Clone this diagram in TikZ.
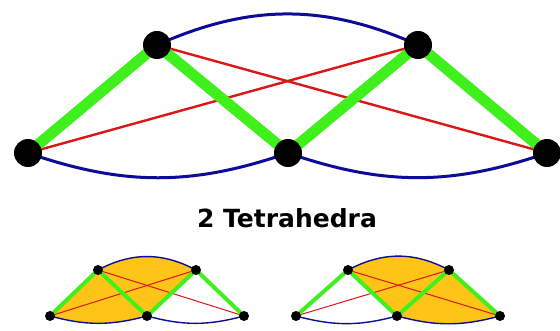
\documentclass[tikz,border=0pt]{standalone}
\usepackage{fontspec}
\setmainfont{DejaVu Sans}
\usetikzlibrary{backgrounds}
\definecolor{gr}{RGB}{64,240,28}
\definecolor{rd}{RGB}{220,22,22}
\definecolor{bl}{RGB}{12,12,150}
\definecolor{og}{RGB}{255,196,24}
\tikzset{
  bigdot/.style={circle,fill=black,inner sep=0pt,minimum size=28pt},
  smalldot/.style={circle,fill=black,inner sep=0pt,minimum size=10pt},
  gbig/.style={draw=gr,line width=11pt},
  rbig/.style={draw=rd,line width=2.4pt},
  bbig/.style={draw=bl,line width=3pt},
  gsm/.style={draw=gr,line width=4pt},
  rsm/.style={draw=rd,line width=1pt},
  bsm/.style={draw=bl,line width=1.4pt},
  tfill/.style={fill=og}
}
\begin{document}
\begin{tikzpicture}[x=1pt,y=-1pt]
\useasboundingbox (0,0) rectangle (560,331);
% big graph
\node[bigdot] (A) at (28,153) {};
\node[bigdot] (B) at (157,45) {};
\node[bigdot] (C) at (418,45) {};
\node[bigdot] (D) at (288,153) {};
\node[bigdot] (E) at (547,153) {};
\begin{scope}[on background layer]
\draw[bbig] (B.center) to[bend left=24] (C.center);
\draw[bbig] (A.center) to[bend right=19] (D.center);
\draw[bbig] (D.center) to[bend right=19] (E.center);
\draw[rbig] (A.center) -- (C.center);
\draw[rbig] (B.center) -- (E.center);
\draw[gbig] (A.center) -- (B.center);
\draw[gbig] (B.center) -- (D.center);
\draw[gbig] (D.center) -- (C.center);
\draw[gbig] (C.center) -- (E.center);
\end{scope}
\node[font=\bfseries\fontsize{25}{30}\selectfont] (T) at (287,218) {2 Tetrahedra};
% small left
\node[smalldot] (a1) at (50,316) {};
\node[smalldot] (b1) at (98,270) {};
\node[smalldot] (c1) at (196,270) {};
\node[smalldot] (d1) at (147,316) {};
\node[smalldot] (e1) at (244,316) {};
\begin{scope}[on background layer]
\path[tfill] (a1.center) -- (b1.center) to[bend left=28] (c1.center) -- (d1.center) to[bend left=15] (a1.center) -- cycle;
\draw[bsm] (b1.center) to[bend left=28] (c1.center);
\draw[bsm] (a1.center) to[bend right=15] (d1.center);
\draw[bsm] (d1.center) to[bend right=15] (e1.center);
\draw[rsm] (a1.center) -- (c1.center);
\draw[rsm] (b1.center) -- (e1.center);
\draw[gsm] (a1.center) -- (b1.center);
\draw[gsm] (b1.center) -- (d1.center);
\draw[gsm] (d1.center) -- (c1.center);
\draw[gsm] (c1.center) -- (e1.center);
\end{scope}
% small right
\node[smalldot] (a2) at (296,316) {};
\node[smalldot] (b2) at (348,270) {};
\node[smalldot] (c2) at (449,270) {};
\node[smalldot] (d2) at (397,316) {};
\node[smalldot] (e2) at (500,316) {};
\begin{scope}[on background layer]
\path[tfill] (d2.center) -- (b2.center) to[bend left=28] (c2.center) -- (e2.center) to[bend left=15] (d2.center) -- cycle;
\draw[bsm] (b2.center) to[bend left=28] (c2.center);
\draw[bsm] (a2.center) to[bend right=15] (d2.center);
\draw[bsm] (d2.center) to[bend right=15] (e2.center);
\draw[rsm] (a2.center) -- (c2.center);
\draw[rsm] (b2.center) -- (e2.center);
\draw[gsm] (a2.center) -- (b2.center);
\draw[gsm] (b2.center) -- (d2.center);
\draw[gsm] (d2.center) -- (c2.center);
\draw[gsm] (c2.center) -- (e2.center);
\end{scope}
\end{tikzpicture}
\end{document}
